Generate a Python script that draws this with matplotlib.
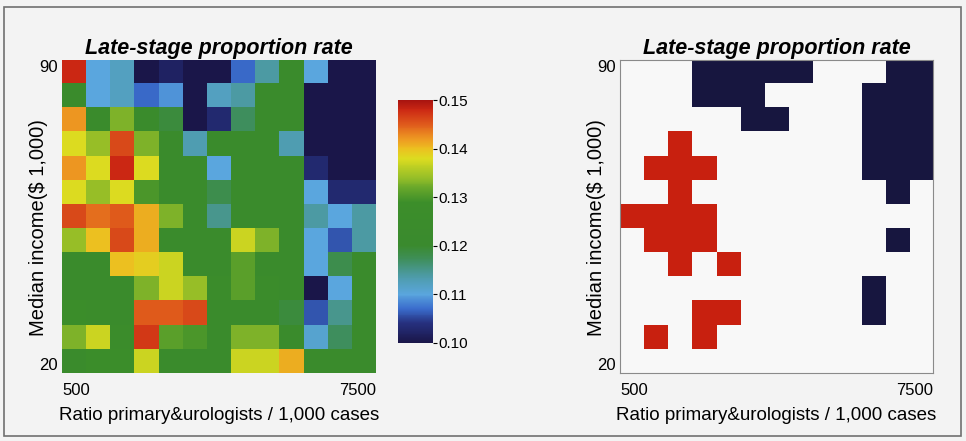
import numpy as np
import matplotlib
matplotlib.use("Agg")
import matplotlib.pyplot as plt
from matplotlib.colors import LinearSegmentedColormap, ListedColormap
from matplotlib.patches import Rectangle

plt.rcParams['font.family'] = ['Liberation Sans', 'DejaVu Sans']

# late-stage proportion rate, rows from income 90 (top) down to 20, columns from ratio 500 to 7500
rates = [
    [.148, .110, .112, .100, .102, .100, .100, .107, .114, .123, .110, .100, .100],
    [.123, .110, .112, .107, .109, .100, .112, .114, .123, .123, .100, .100, .100],
    [.142, .123, .133, .123, .119, .100, .103, .117, .123, .123, .100, .100, .100],
    [.138, .134, .146, .133, .123, .113, .123, .123, .123, .113, .100, .100, .100],
    [.142, .138, .148, .138, .123, .123, .110, .123, .123, .123, .103, .100, .100],
    [.138, .134, .138, .130, .123, .123, .118, .123, .123, .123, .110, .103, .103],
    [.146, .144, .145, .141, .133, .123, .115, .123, .123, .123, .114, .110, .114],
    [.134, .140, .146, .141, .123, .123, .123, .137, .133, .123, .110, .106, .114],
    [.123, .123, .140, .139, .137, .123, .123, .131, .123, .123, .110, .118, .123],
    [.123, .123, .123, .133, .137, .134, .125, .131, .125, .123, .100, .110, .123],
    [.127, .125, .123, .145, .145, .146, .123, .123, .123, .119, .106, .115, .123],
    [.133, .137, .125, .147, .131, .130, .123, .133, .133, .123, .111, .117, .123],
    [.123, .128, .127, .137, .123, .123, .123, .137, .137, .141, .123, .123, .123],
]

# clusters: 1 = high rate, -1 = low rate, 0 = not significant
clusters = [
    [0, 0, 0, -1, -1, -1, -1, -1, 0, 0, 0, -1, -1],
    [0, 0, 0, -1, -1, -1, 0, 0, 0, 0, -1, -1, -1],
    [0, 0, 0, 0, 0, -1, -1, 0, 0, 0, -1, -1, -1],
    [0, 0, 1, 0, 0, 0, 0, 0, 0, 0, -1, -1, -1],
    [0, 1, 1, 1, 0, 0, 0, 0, 0, 0, -1, -1, -1],
    [0, 0, 1, 0, 0, 0, 0, 0, 0, 0, 0, -1, 0],
    [1, 1, 1, 1, 0, 0, 0, 0, 0, 0, 0, 0, 0],
    [0, 1, 1, 1, 0, 0, 0, 0, 0, 0, 0, -1, 0],
    [0, 0, 1, 0, 1, 0, 0, 0, 0, 0, 0, 0, 0],
    [0, 0, 0, 0, 0, 0, 0, 0, 0, 0, -1, 0, 0],
    [0, 0, 0, 1, 1, 0, 0, 0, 0, 0, -1, 0, 0],
    [0, 1, 0, 1, 0, 0, 0, 0, 0, 0, 0, 0, 0],
    [0, 0, 0, 0, 0, 0, 0, 0, 0, 0, 0, 0, 0],
]

x_range = [500, 7500]
y_range = [20, 90]
cbar_ticks = [0.10, 0.11, 0.12, 0.13, 0.14, 0.15]

title = "Late-stage proportion rate"
xlabel = "Ratio primary&urologists / 1,000 cases"
ylabel = "Median income($ 1,000)"

bg = '#f3f3f3'

# jet-like map as printed in the figure
cmap = LinearSegmentedColormap.from_list('rate', [
    (0.00, '#1a1649'),
    (0.08, '#26307e'),
    (0.14, '#3a6ccc'),
    (0.20, '#5aa6de'),
    (0.28, '#4c9aa2'),
    (0.34, '#3f8f5e'),
    (0.40, '#3a8a2e'),
    (0.58, '#3c8e2a'),
    (0.64, '#6aa82a'),
    (0.68, '#95be28'),
    (0.76, '#dcdc20'),
    (0.80, '#ecc020'),
    (0.84, '#ee9a22'),
    (0.90, '#e05c1c'),
    (0.96, '#cc2814'),
    (1.00, '#a81410'),
])
cluster_cmap = ListedColormap(['#17163f', '#f8f8f8', '#c8200f'])

fig = plt.figure(figsize=(9.66, 4.41), dpi=100, facecolor=bg)
fig.patches.append(Rectangle((4 / 966, 1 - 436 / 441), 957 / 966, 429 / 441,
                             transform=fig.transFigure, fill=False,
                             edgecolor='#707070', linewidth=1.2))

ax1 = fig.add_axes([62 / 966, 1 - 373 / 441, 314 / 966, 313 / 441])
ax2 = fig.add_axes([620 / 966, 1 - 373 / 441, 313 / 966, 313 / 441])
cax = fig.add_axes([398 / 966, 1 - 343 / 441, 35 / 966, 243 / 441])

extent = [x_range[0], x_range[1], y_range[0], y_range[1]]
im = ax1.imshow(np.array(rates), cmap=cmap, vmin=0.10, vmax=0.15,
                extent=extent, aspect='auto', interpolation='nearest')
ax2.imshow(np.array(clusters), cmap=cluster_cmap, vmin=-1.5, vmax=1.5,
           extent=extent, aspect='auto', interpolation='nearest')

for ax in (ax1, ax2):
    ax.set_xticks(x_range)
    ax.set_yticks(y_range)
    ax.tick_params(length=0, labelsize=12)
    ax.tick_params(axis='x', pad=7)
    ax.tick_params(axis='y', pad=3)
    xl = ax.get_xticklabels()
    xl[0].set_ha('left')
    xl[1].set_ha('right')
    yl = ax.get_yticklabels()
    yl[0].set_va('bottom')
    yl[1].set_va('top')
    ax.set_title(title, fontsize=15.5, fontweight='bold', fontstyle='italic', pad=4)
    ax.set_xlabel(xlabel, fontsize=13.5)
    ax.xaxis.set_label_coords(0.5, -0.108)
    ax.set_ylabel(ylabel, fontsize=14.5)
    ax.yaxis.set_label_coords(-0.045, 0.465)

for s in ax1.spines.values():
    s.set_visible(False)
for s in ax2.spines.values():
    s.set_color('#8a8a8a')
    s.set_linewidth(0.8)

cb = fig.colorbar(im, cax=cax, ticks=cbar_ticks)
cb.outline.set_visible(False)
cb.ax.tick_params(length=3, width=0.8, labelsize=11, pad=1)
cb.ax.set_yticklabels([f'{t:.2f}' for t in cbar_ticks])

fig.savefig('out.png', dpi=100, facecolor=bg)
